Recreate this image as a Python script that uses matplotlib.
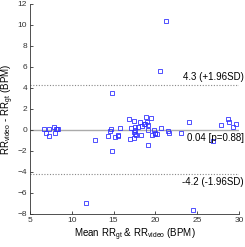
import numpy as np
import matplotlib
matplotlib.use("Agg")
import matplotlib.pyplot as plt

plt.rcParams['font.family'] = ['Liberation Sans', 'DejaVu Sans']
plt.rcParams['mathtext.default'] = 'regular'

# Bland-Altman points
mean_rr = [6.7, 6.9, 7.3, 7.3, 7.9, 8.0, 8.1, 8.2, 8.3,
           11.7, 12.8, 14.3, 14.6, 14.7, 14.8, 14.8, 15.2, 15.5, 15.5, 15.8,
           16.8, 17.0, 17.1, 17.4, 17.4, 17.4, 17.5, 17.5, 17.6, 17.7, 17.9,
           18.2, 18.3, 18.4, 18.6, 18.8, 18.9, 19.0, 19.1, 19.1, 19.1,
           19.5, 19.6, 19.8, 19.9, 20.0, 20.2, 20.6, 20.7, 21.3, 21.5, 21.6,
           23.0, 24.0, 24.5, 26.9, 27.8, 28.7, 28.8, 29.3, 29.6]
diff_rr = [0.1, -0.3, 0.13, -0.55, 0.25, -0.3, 0.13, 0.06, 0.06,
           -7.0, -1.0, -0.55, -0.1, 0.13, 3.47, -2.0, -0.7, -0.55, -0.5, 0.22,
           1.02, -0.9, 0.19, 0.86, -0.22, -0.8, 0.03, -0.35, 0.29, -0.48, 0.32,
           0.73, -0.48, 0.41, 0.57, 0.57, 1.27, 0.73, 0.45, 0.03, -1.4,
           1.11, -0.48, 0.03, -0.38, -0.25, -0.38, 5.6, 0.16, 10.35, -0.13, -0.32,
           -0.25, 0.73, -7.66, -1.05, 0.45, 1.05, 0.73, 0.32, 0.57]

bias = 0.04
upper = 4.3
lower = -4.2

fig = plt.figure(figsize=(2.45, 2.47), dpi=100)
ax = fig.add_axes([0.122, 0.134, 0.854, 0.85])

ax.axhline(bias, color='#aaaaaa', lw=1.0, zorder=1)
ax.axhline(upper, color='#888888', lw=0.8, ls=(0, (1, 1.5)), zorder=1)
ax.axhline(lower, color='#888888', lw=0.8, ls=(0, (1, 1.5)), zorder=1)
ax.plot(mean_rr, diff_rr, 's', mfc='none', mec='#3333ff', ms=2.3, mew=0.6, zorder=2)

ax.text(1.022, upper + 0.3, '4.3 (+1.96SD)', transform=ax.get_yaxis_transform(),
        ha='right', va='bottom', fontsize=7)
ax.text(1.022, bias - 0.3, '0.04 [p=0.88]', transform=ax.get_yaxis_transform(),
        ha='right', va='top', fontsize=7)
ax.text(1.022, lower - 0.3, '-4.2 (-1.96SD)', transform=ax.get_yaxis_transform(),
        ha='right', va='top', fontsize=7)

ax.set_xlim(5, 30)
ax.set_ylim(-8, 12)
ax.set_xticks([5, 10, 15, 20, 25, 30])
ax.set_yticks(np.arange(-8, 13, 2))
ax.spines['top'].set_visible(False)
ax.spines['right'].set_visible(False)
for s in ['left', 'bottom']:
    ax.spines[s].set_color('#333333')
    ax.spines[s].set_linewidth(0.6)
ax.tick_params(direction='in', length=2, width=0.6, labelsize=6, colors='#333333', pad=2)
ax.set_xlabel('Mean RR$_{gt}$ & RR$_{video}$ (BPM)', fontsize=7, labelpad=2)
ax.set_ylabel('RR$_{video}$ - RR$_{gt}$ (BPM)', fontsize=7, labelpad=1)

fig.savefig('out.png', dpi=100)
